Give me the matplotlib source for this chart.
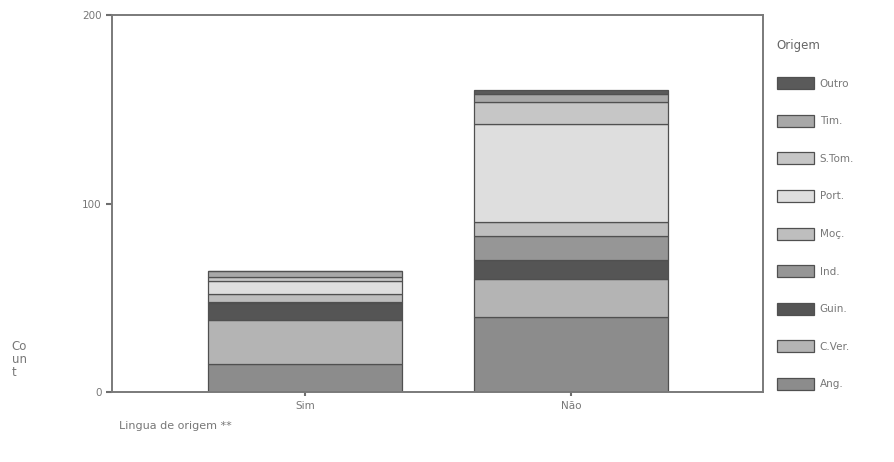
import matplotlib
matplotlib.use("Agg")
import matplotlib.pyplot as plt
import numpy as np

# dados
grupos = ["Sim", "Não"]
origens = ["Ang.", "C.Ver.", "Guin.", "Ind.", "Moç.", "Port.", "S.Tom.", "Tim.", "Outro"]
sim = [15, 23, 9, 1, 4, 7, 2, 3, 0]
nao = [40, 20, 10, 13, 7, 52, 12, 4, 2]
cores = ["#8c8c8c", "#b4b4b4", "#555555", "#969696", "#bebebe",
         "#dedede", "#c6c6c6", "#a8a8a8", "#5a5a5a"]
yticks = [0, 100, 200]

cinza = "#6e6e6e"
plt.rcParams['font.family'] = ['DejaVu Sans']

fig = plt.figure(figsize=(8.94, 4.62), dpi=100)
ax = fig.add_axes([0.1253, 0.1515, 0.7282, 0.816])

x = np.arange(len(grupos))
valores = np.array([sim, nao]).T
base = np.zeros(len(grupos))
handles = []
for nome, vals, cor in zip(origens, valores, cores):
    b = ax.bar(x, vals, width=0.726, bottom=base, color=cor,
               edgecolor="#505050", linewidth=0.9, label=nome)
    handles.append(b)
    base += vals

ax.set_xlim(-0.7256, 1.722)
ax.set_ylim(0, 200)
ax.set_yticks(yticks)
ax.set_xticks(x)
ax.set_xticklabels(grupos)
ax.tick_params(axis='both', colors=cinza, labelsize=7.5, length=4, width=1.5,
               labelcolor="#777777")
ax.tick_params(axis='x', length=3)
for s in ax.spines.values():
    s.set_color("#7a7a7a")
    s.set_linewidth(1.4)

fig.text(0.013, 0.18, "Co\nun\nt", fontsize=8.5, color="#777777",
         linespacing=1.0, va='bottom')
fig.text(0.133, 0.072, "Lingua de origem **", fontsize=8, color="#777777")

leg = fig.legend(handles[::-1], origens[::-1], title="Origem",
                 loc='upper left', bbox_to_anchor=(0.864, 0.925),
                 frameon=False, fontsize=7.5, title_fontsize=8.5,
                 handlelength=3.6, handleheight=1.4, labelspacing=2.45,
                 handletextpad=0.55, borderaxespad=0)
for t in leg.get_texts():
    t.set_color("#777777")
leg.get_title().set_color("#666666")
leg._legend_box.align = "left"

fig.savefig("out.png", dpi=100, facecolor="white")
